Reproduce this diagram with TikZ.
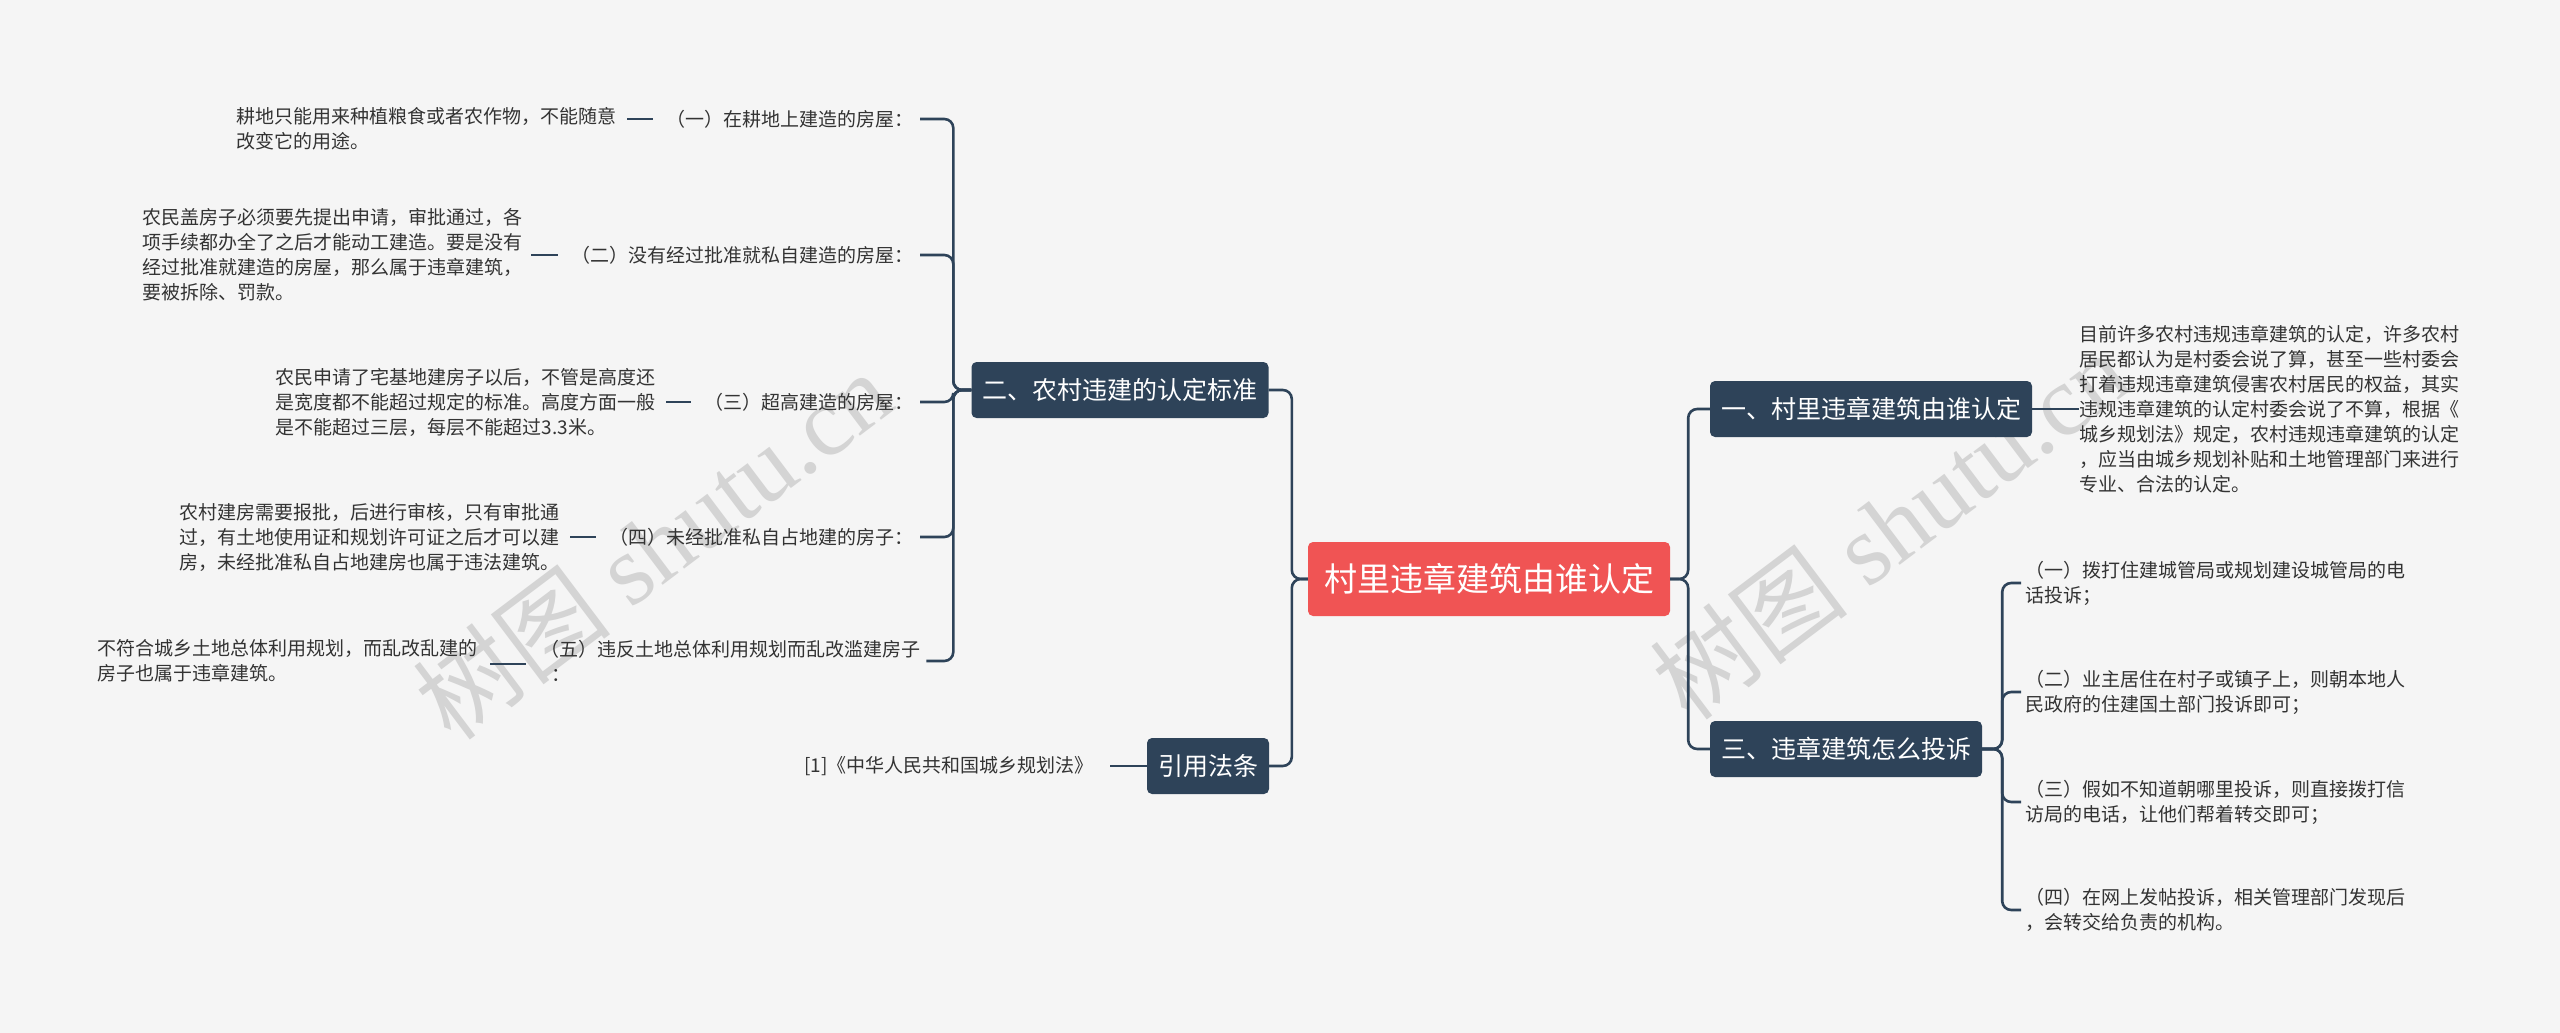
\documentclass[tikz,border=0pt]{standalone}
\usepackage{fontspec}
\setmainfont{Noto Sans CJK SC}
\newfontfamily\wmser{Liberation Serif}
\definecolor{bg}{HTML}{F5F5F5}
\definecolor{nd}{HTML}{2E4359}
\definecolor{rd}{HTML}{F05454}
\definecolor{tx}{HTML}{333333}
\begin{document}
\begin{tikzpicture}[x=1pt,y=-1pt,
  topic/.style={fill=nd,text=white,rounded corners=5pt,inner xsep=11pt,minimum height=56pt,font=\fontsize{25}{30}\selectfont},
  txt/.style={text=tx,align=left,inner sep=0pt,font=\fontsize{19}{25}\selectfont},
  edge/.style={draw=nd,line width=2.6pt,rounded corners=9pt},
  stub/.style={draw=nd,line width=2.6pt},
  wm/.style={text=black!17,rotate=37,font=\fontsize{100}{100}\selectfont}]
\fill[bg] (0,0) rectangle (2560,1033);
\useasboundingbox (0,0) rectangle (2560,1033);
% watermarks
\node[wm] (wm1) at (653,545) {树图 {\wmser shutu.cn}};
\node[wm] (wm2) at (1890,525) {树图 {\wmser shutu.cn}};
% center
\node[fill=rd,text=white,rounded corners=5pt,inner xsep=16pt,minimum height=74pt,font=\fontsize{33}{38}\selectfont] (c) at (1489,579) {村里违章建筑由谁认定};
% right
\node[topic] (r1) at (1871,409) {一、村里违章建筑由谁认定};
\node[topic] (r3) at (1846,749) {三、违章建筑怎么投诉};
\node[txt,anchor=west] (r1t) at (2079,409) {目前许多农村违规违章建筑的认定，许多农村\\居民都认为是村委会说了算，甚至一些村委会\\打着违规违章建筑侵害农村居民的权益，其实\\违规违章建筑的认定村委会说了不算，根据《\\城乡规划法》规定，农村违规违章建筑的认定\\，应当由城乡规划补贴和土地管理部门来进行\\专业、合法的认定。};
\node[txt,anchor=west] (a1) at (2025,583) {（一）拨打住建城管局或规划建设城管局的电\\话投诉；};
\node[txt,anchor=west] (a2) at (2025,692) {（二）业主居住在村子或镇子上，则朝本地人\\民政府的住建国土部门投诉即可；};
\node[txt,anchor=west] (a3) at (2025,802) {（三）假如不知道朝哪里投诉，则直接拨打信\\访局的电话，让他们帮着转交即可；};
\node[txt,anchor=west] (a4) at (2025,910) {（四）在网上发帖投诉，相关管理部门发现后\\，会转交给负责的机构。};
\draw[edge] (c.east) -- ++(18,0) |- (r1.west);
\draw[edge] (c.east) -- ++(18,0) |- (r3.west);
\draw[stub] (r1.east) -- (r1t.west);
\foreach \n in {a1,a2,a3,a4} \draw[edge] (r3.east) -- ++(20,0) |- ([xshift=-4pt]\n.west);
% left
\node[topic] (l2) at (1120,390) {二、农村违建的认定标准};
\node[topic] (l9) at (1208,766) {引用法条};
\draw[edge] (c.west) -- ++(-16,0) |- (l2.east);
\draw[edge] (c.west) -- ++(-16,0) |- (l9.east);
\node[txt,anchor=east] (ref) at (1094,766) {[1]《中华人民共和国城乡规划法》};
\draw[stub] ([xshift=16pt]ref.east) -- (l9.west);
\node[txt,anchor=east] (b1) at (914,119) {（一）在耕地上建造的房屋：};
\node[txt,anchor=east] (b2) at (914,255) {（二）没有经过批准就私自建造的房屋：};
\node[txt,anchor=east] (b3) at (914,402) {（三）超高建造的房屋：};
\node[txt,anchor=east] (b4) at (914,537) {（四）未经批准私自占地建的房子：};
\node[txt,anchor=west] (b5) at (540,661) {（五）违反土地总体利用规划而乱改滥建房子\\\hspace*{0.6em}：};
\foreach \n in {b1,b2,b3,b4,b5} \draw[edge] (l2.west) -- ++(-18,0) |- ([xshift=6pt]\n.east);
\node[txt,anchor=east] (d1) at (617,129) {耕地只能用来种植粮食或者农作物，不能随意\\改变它的用途。};
\node[txt,anchor=east] (d2) at (523,255) {农民盖房子必须要先提出申请，审批通过，各\\项手续都办全了之后才能动工建造。要是没有\\经过批准就建造的房屋，那么属于违章建筑，\\要被拆除、罚款。};
\node[txt,anchor=east] (d3) at (656,402) {农民申请了宅基地建房子以后，不管是高度还\\是宽度都不能超过规定的标准。高度方面一般\\是不能超过三层，每层不能超过3.3米。};
\node[txt,anchor=east] (d4) at (560,537) {农村建房需要报批，后进行审核，只有审批通\\过，有土地使用证和规划许可证之后才可以建\\房，未经批准私自占地建房也属于违法建筑。};
\node[txt,anchor=east] (d5) at (478,661) {不符合城乡土地总体利用规划，而乱改乱建的\\房子也属于违章建筑。};
\draw[stub] ([xshift=10pt]d1.east |- b1.west) -- ([xshift=-14pt]b1.west);
\draw[stub] ([xshift=8pt]d2.east) -- ([xshift=-14pt]b2.west);
\draw[stub] ([xshift=10pt]d3.east) -- ([xshift=-14pt]b3.west);
\draw[stub] ([xshift=10pt]d4.east) -- ([xshift=-14pt]b4.west);
\draw[stub] ([xshift=12pt]d5.east |- 0,664) -- ([xshift=-14pt]b5.west |- 0,664);
\end{tikzpicture}
\end{document}
